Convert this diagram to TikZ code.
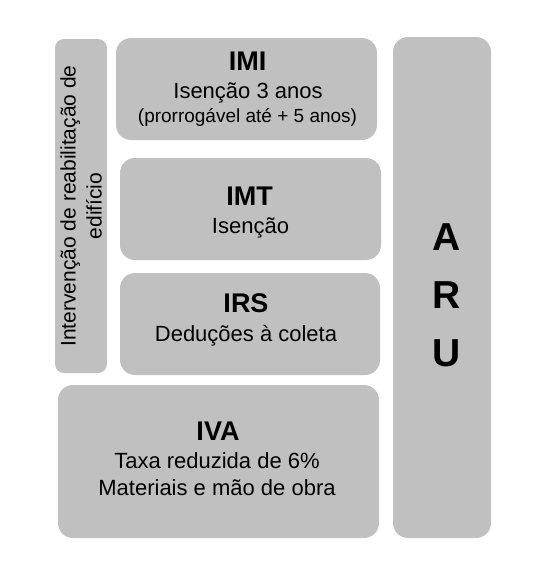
\documentclass[tikz,border=0pt]{standalone}
\usepackage{fontspec}
\setmainfont{Liberation Sans}
\usepackage{tikz}
\usetikzlibrary{positioning}
\definecolor{boxgray}{RGB}{192,192,192}
\tikzset{%
    taxbox/.style={%
        rectangle,
        fill=boxgray,
        rounded corners=15pt,
        inner sep=0pt,
    },
    sidebox/.style={%
        taxbox,
        rounded corners=9pt,
    },
    title/.style={%
        anchor=base,
        inner sep=0pt,
        font=\fontsize{27}{32}\selectfont\bfseries,
    },
    detail/.style={%
        anchor=base,
        inner sep=0pt,
        font=\fontsize{22}{26}\selectfont,
    },
    note/.style={%
        anchor=base,
        inner sep=0pt,
        font=\fontsize{19}{23}\selectfont,
    },
    sidetext/.style={%
        rotate=90,
        align=center,
        inner sep=0pt,
        font=\fontsize{21}{26}\selectfont,
    },
    arulabel/.style={%
        anchor=base,
        inner sep=0pt,
        font=\fontsize{39}{44}\selectfont\bfseries,
    },
}

\begin{document}
\begin{tikzpicture}[x=1pt, y=-1pt]
	\useasboundingbox[fill=white] (0, 0) rectangle (537, 582);

	% boxes
	\node [sidebox, minimum width=52, minimum height=334] at (81, 206) (side) {};
	\node [taxbox, minimum width=261, minimum height=102] at (246.5, 89) (imi) {};
	\node [taxbox, minimum width=261, minimum height=102] at (250.5, 209) (imt) {};
	\node [taxbox, minimum width=260, minimum height=102] at (250, 324) (irs) {};
	\node [taxbox, minimum width=321, minimum height=153] at (218.5, 461.5) (iva) {};
	\node [taxbox, minimum width=98, minimum height=501] at (442, 287.5) (aru) {};

	\node [sidetext] at (side.center) (side_text) {Intervenção de reabilitação de\\edifício};

	\node [title] at (247.5, 70) (imi_title) {IMI};
	\node [detail] at (248, 98) (imi_detail) {Isenção 3 anos};
	\node [note] at (247.5, 122) (imi_note) {(prorrogável até + 5 anos)};

	\node [title] at (249.5, 205) (imt_title) {IMT};
	\node [detail] at (250.5, 233) (imt_detail) {Isenção};

	\node [title] at (246, 312) (irs_title) {IRS};
	\node [detail] at (246, 341) (irs_detail) {Deduções à coleta};

	\node [title] at (218, 440) (iva_title) {IVA};
	\node [detail] at (217, 468) (iva_rate) {Taxa reduzida de 6\%};
	\node [detail] at (217, 495) (iva_scope) {Materiais e mão de obra};

	\node [arulabel] at (446.5, 250) (aru_a) {A};
	\node [arulabel] at (446.5, 308) (aru_r) {R};
	\node [arulabel] at (446.5, 366) (aru_u) {U};
\end{tikzpicture}
\end{document}
